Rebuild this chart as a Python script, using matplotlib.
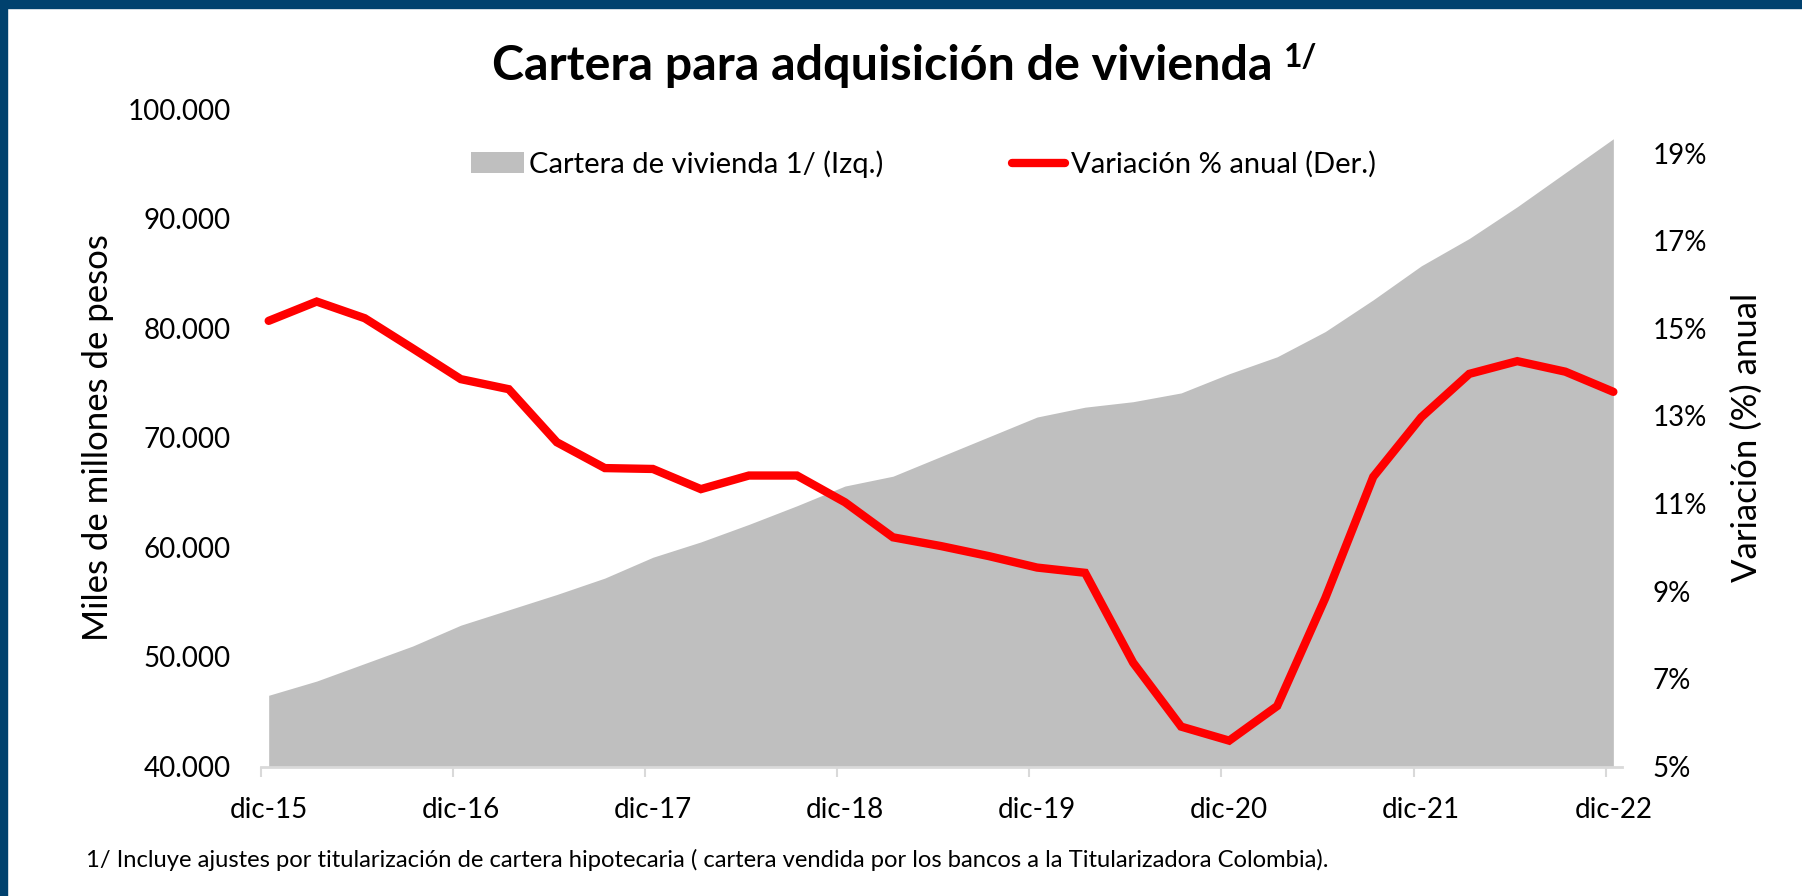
import matplotlib
matplotlib.use("Agg")
import matplotlib.pyplot as plt
from matplotlib.patches import Patch, Rectangle
from matplotlib.lines import Line2D
from matplotlib.ticker import FuncFormatter, FixedLocator

plt.rcParams['font.family'] = ['Lato', 'DejaVu Sans']

# trimestral, dic-15 ... dic-22
cartera = [46500, 47800, 49400, 51000, 52900, 54300, 55700, 57200,
           59100, 60500, 62100, 63800, 65600, 66500, 68300, 70100,
           71900, 72800, 73300, 74100, 75850, 77400, 79700, 82600,
           85700, 88200, 91100, 94200, 97300]
variacion = [15.17, 15.61, 15.23, 14.54, 13.84, 13.61, 12.40, 11.81,
             11.79, 11.33, 11.64, 11.64, 11.03, 10.23, 10.03, 9.80,
             9.54, 9.42, 7.37, 5.91, 5.59, 6.38, 8.84, 11.61,
             12.97, 13.96, 14.25, 14.01, 13.55]
etiquetas = ['dic-15', 'dic-16', 'dic-17', 'dic-18', 'dic-19',
             'dic-20', 'dic-21', 'dic-22']

x = list(range(len(cartera)))
gris = '#BFBFBF'
rojo = '#FF0000'
azul = '#00416E'

fig = plt.figure(figsize=(18.02, 8.96), dpi=100)
ax = fig.add_axes([261 / 1802, 1 - 766.5 / 896, (1622 - 261) / 1802, (766.5 - 109.2) / 896])
ax2 = ax.twinx()

ax.fill_between(x, 40000, cartera, color=gris, lw=0, zorder=1)
ax2.plot(x, variacion, color=rojo, lw=6, solid_capstyle='round', solid_joinstyle='miter', zorder=3)

ax.set_xlim(-0.16, 28.18)
ax.set_ylim(40000, 100000)
ax2.set_ylim(5, 20)

ax.set_yticks(range(40000, 100001, 10000))
ax.yaxis.set_major_formatter(FuncFormatter(lambda v, p: '{:,.0f}'.format(v).replace(',', '.')))
ax2.set_yticks(range(5, 20, 2))
ax2.yaxis.set_major_formatter(FuncFormatter(lambda v, p: '%d%%' % v))

# etiquetas centradas en el dato, marcas un poco a la izquierda
ax.set_xticks([i * 4 for i in range(len(etiquetas))])
ax.set_xticklabels(etiquetas)
ax.xaxis.set_minor_locator(FixedLocator([i * 4 - 0.16 for i in range(len(etiquetas))]))
ax.tick_params(axis='x', which='major', length=0, pad=22, labelsize=20)
ax.tick_params(axis='x', which='minor', length=7, width=1.5, color='#D9D9D9')
ax.tick_params(axis='y', length=0, pad=22, labelsize=20)
ax2.tick_params(axis='y', length=0, pad=22, labelsize=20)

for a in (ax, ax2):
    for s in ('top', 'left', 'right'):
        a.spines[s].set_visible(False)
ax2.spines['bottom'].set_visible(False)
ax.spines['bottom'].set_color('#D9D9D9')
ax.spines['bottom'].set_linewidth(2)

ax.set_ylabel('Miles de millones de pesos', fontsize=25, va='center')
ax.yaxis.set_label_coords(-0.12, 0.5)
ax2.set_ylabel('Variación (%) anual', fontsize=25, va='center', rotation=90)
ax2.yaxis.set_label_coords(1.092, 0.5)

fig.text(0.4895, 0.911, 'Cartera para adquisición de vivienda', fontsize=34.8,
         fontweight='bold', ha='center', va='baseline')
fig.text(0.7125, 0.925, '1/', fontsize=23, fontweight='bold', ha='left', va='baseline')

handles = [Patch(facecolor=gris, edgecolor='none'),
           Line2D([0], [0], color=rojo, lw=6, solid_capstyle='round')]
fig.legend(handles, ['Cartera de vivienda 1/ (Izq.)', 'Variación % anual (Der.)'],
           loc='center', bbox_to_anchor=(0.5124, 0.817), ncol=2, frameon=False,
           fontsize=21, handlelength=1.8, handleheight=0.7, handletextpad=0.2,
           columnspacing=4.4)

fig.text(86 / 1802, 0.040, '1/ Incluye ajustes por titularización de cartera hipotecaria '
         '( cartera vendida por los bancos a la Titularizadora Colombia).',
         fontsize=17.15, ha='left', va='center')

# marco azul (solo arriba e izquierda, como en el recorte original)
fig.patches.append(Rectangle((0, 0), 7 / 1802, 1, transform=fig.transFigure,
                             color=azul, zorder=10))
fig.patches.append(Rectangle((0, 1 - 8 / 896), 1, 8 / 896, transform=fig.transFigure,
                             color=azul, zorder=10))

fig.savefig('out.png', dpi=100)
